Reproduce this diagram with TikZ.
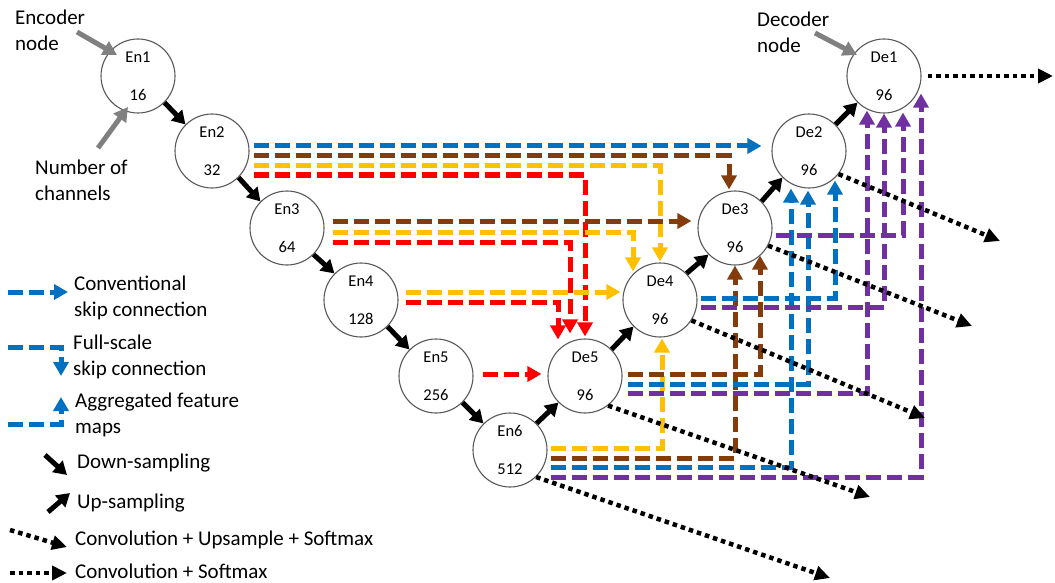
\documentclass[tikz,border=0pt]{standalone}
\usepackage{fontspec}
\setmainfont{Carlito}
\usetikzlibrary{arrows.meta}
\definecolor{skipblue}{RGB}{0,112,192}
\definecolor{skipbrown}{RGB}{132,60,12}
\definecolor{skipyellow}{RGB}{255,192,0}
\definecolor{skipred}{RGB}{255,0,0}
\definecolor{skippurple}{RGB}{112,48,160}
\tikzset{
  unetnode/.style={circle, draw=black!65, line width=1.1pt, fill=white, minimum size=74pt,
    inner sep=0pt, align=center, font=\fontsize{16.5}{19}\selectfont},
  skip/.style={line width=5pt, dash pattern=on 15pt off 6pt, -{Triangle[length=14pt,width=15pt]}},
  sample/.style={line width=5pt, -{Triangle[length=13pt,width=15pt]}},
  softmax/.style={line width=4.5pt, dash pattern=on 4.5pt off 4pt, -{Triangle[length=15pt,width=14pt]}},
  pointer/.style={black!50, line width=5pt, -{Triangle[length=14pt,width=15pt]}},
  lbl/.style={font=\fontsize{21}{25.5}\selectfont, inner sep=0pt, align=left},
}

\begin{document}
\begin{tikzpicture}[x=1pt, y=-1pt]
\useasboundingbox (0,0) rectangle (1055,583);

% encoder and decoder nodes
\node[unetnode] (en1) at (138,76)  {En1\\[19pt]16};
\node[unetnode] (en2) at (212,151) {En2\\[19pt]32};
\node[unetnode] (en3) at (287,228) {En3\\[19pt]64};
\node[unetnode] (en4) at (361,300) {En4\\[19pt]128};
\node[unetnode] (en5) at (436,376) {En5\\[19pt]256};
\node[unetnode] (en6) at (510,450) {En6\\[19pt]512};
\node[unetnode] (de5) at (585,376) {De5\\[19pt]96};
\node[unetnode] (de4) at (660,300) {De4\\[19pt]96};
\node[unetnode] (de3) at (735,228) {De3\\[19pt]96};
\node[unetnode] (de2) at (809,151) {De2\\[19pt]96};
\node[unetnode] (de1) at (884,76)  {De1\\[19pt]96};

% down- and up-sampling
\foreach \a/\b in {en1/en2,en2/en3,en3/en4,en4/en5,en5/en6}
  \draw[sample] (\a.-45) -- (\b.135);
\foreach \a/\b in {en6/de5,de5/de4,de4/de3,de3/de2,de2/de1}
  \draw[sample] (\a.45) -- (\b.-135);

% skip connections from En2
\draw[skip, skipblue]   ([xshift=4pt,yshift=5pt]en2.east) -- ([xshift=-10pt,yshift=5pt]de2.west);
\draw[skip, skipbrown]  ([xshift=4pt,yshift=-5pt]en2.east) -| ([xshift=-6pt,yshift=1pt]de3.north);
\draw[skip, skipyellow] ([xshift=4pt,yshift=-15pt]en2.east) -| ([yshift=1pt]de4.north);
\draw[skip, skipred]    ([xshift=4pt,yshift=-24pt]en2.east) -| ([yshift=2pt]de5.north);
% from En3
\draw[skip, skipbrown]  ([xshift=8pt,yshift=7pt]en3.east) -- ([xshift=-6pt,yshift=7pt]de3.west);
\draw[skip, skipyellow] ([xshift=8pt,yshift=-4pt]en3.east) -| ([xshift=-27pt,yshift=-9pt]de4.north);
\draw[skip, skipred]    ([xshift=8pt,yshift=-14pt]en3.east) -| ([xshift=-15pt,yshift=5pt]de5.north);
% from En4 and En5
\draw[skip, skipyellow] ([xshift=7pt,yshift=8pt]en4.east) -- ([xshift=-2pt,yshift=8pt]de4.west);
\draw[skip, skipred]    ([xshift=7pt,yshift=-2pt]en4.east) -| ([xshift=-27pt,yshift=-1pt]de5.north);
\draw[skip, skipred]    ([xshift=9pt,yshift=2pt]en5.east) -- ([xshift=-6pt,yshift=2pt]de5.west);
% from En6
\draw[skip, skipyellow] ([xshift=3pt,yshift=2pt]en6.east) -| ([xshift=2pt,yshift=-1pt]de4.south);
\draw[skip, skipbrown]  ([xshift=3pt,yshift=-8pt]en6.east) -| (de3.south);
\draw[skip, skipblue]   ([xshift=3pt,yshift=-17pt]en6.east) -| ([xshift=-18pt]de2.south);
\draw[skip, skippurple] ([xshift=3pt,yshift=-27pt]en6.east) -| ([xshift=37pt,yshift=20pt]de1.south);
% from De5
\draw[skip, skipbrown]  ([xshift=5pt,yshift=2pt]de5.east) -| ([xshift=25pt,yshift=10pt]de3.south);
\draw[skip, skipblue]   ([xshift=5pt,yshift=-8pt]de5.east) -| ([xshift=-1pt,yshift=-2pt]de2.south);
\draw[skip, skippurple] ([xshift=5pt,yshift=-17pt]de5.east) -| ([xshift=-17pt,yshift=3pt]de1.south);
% from De4 and De3
\draw[skip, skipblue]   ([xshift=3pt,yshift=2pt]de4.east) -| ([xshift=26pt,yshift=8pt]de2.south);
\draw[skip, skippurple] ([xshift=3pt,yshift=-7pt]de4.east) -| (de1.south);
\draw[skip, skippurple] ([xshift=3pt,yshift=-7pt]de3.east) -| ([xshift=19pt,yshift=1pt]de1.south);

% outputs
\coordinate (o1) at (1053,76);
\coordinate (o2) at (1000,241);
\coordinate (o3) at (972,326);
\coordinate (o4) at (925,418);
\coordinate (o5) at (870,497);
\coordinate (o6) at (830,578);
\draw[softmax] ([xshift=6pt]de1.east) -- (o1);
\draw[softmax] (de2.-38) -- (o2);
\draw[softmax] (de3.-28) -- (o3);
\draw[softmax] (de4.-33) -- (o4);
\draw[softmax] (de5.-52) -- (o5);
\draw[softmax] (en6.-46) -- (o6);

% annotations
\node[lbl, anchor=north west] (enclbl) at (15,10)  {Encoder\\node};
\node[lbl, anchor=north west] (chlbl)  at (35,160) {Number of\\channels};
\node[lbl, anchor=north west] (declbl) at (757,12) {Decoder\\node};
\draw[pointer] ([xshift=-61pt,yshift=44pt]en1.center) -- ([xshift=-21pt,yshift=21pt]en1.center);
\draw[pointer] ([xshift=-40pt,yshift=-72pt]en1.center) -- ([xshift=-10pt,yshift=-31pt]en1.center);
\draw[pointer] ([xshift=-69pt,yshift=43pt]de1.center) -- ([xshift=-27pt,yshift=21pt]de1.center);

% legend
\coordinate (k1a) at (8,292);  \coordinate (k1b) at (68,292);
\coordinate (k2a) at (8,347);  \coordinate (k2b) at (61,376);
\coordinate (k3a) at (8,424);  \coordinate (k3b) at (61,397);
\coordinate (k4a) at (45,455); \coordinate (k4b) at (67,475);
\coordinate (k5a) at (48,512); \coordinate (k5b) at (70,493);
\coordinate (k6a) at (10,530); \coordinate (k6b) at (67,547);
\coordinate (k7a) at (10,573); \coordinate (k7b) at (67,573);
\draw[skip, skipblue] (k1a) -- (k1b);
\draw[skip, skipblue] (k2a) -| (k2b);
\draw[skip, skipblue] (k3a) -| (k3b);
\draw[sample] (k4a) -- (k4b);
\draw[sample] (k5a) -- (k5b);
\draw[softmax] (k6a) -- (k6b);
\draw[softmax] (k7a) -- (k7b);
\node[lbl, anchor=north west] (k1) at (74,276) {Conventional\\skip connection};
\node[lbl, anchor=north west] (k2) at (73,335) {Full-scale\\skip connection};
\node[lbl, anchor=north west] (k3) at (75,393) {Aggregated feature\\maps};
\node[lbl, anchor=base west] (k4) at (77,468) {Down-sampling};
\node[lbl, anchor=base west] (k5) at (77,508) {Up-sampling};
\node[lbl, anchor=base west] (k6) at (75,545) {Convolution + Upsample + Softmax};
\node[lbl, anchor=base west] (k7) at (75,578) {Convolution + Softmax};
\end{tikzpicture}
\end{document}
